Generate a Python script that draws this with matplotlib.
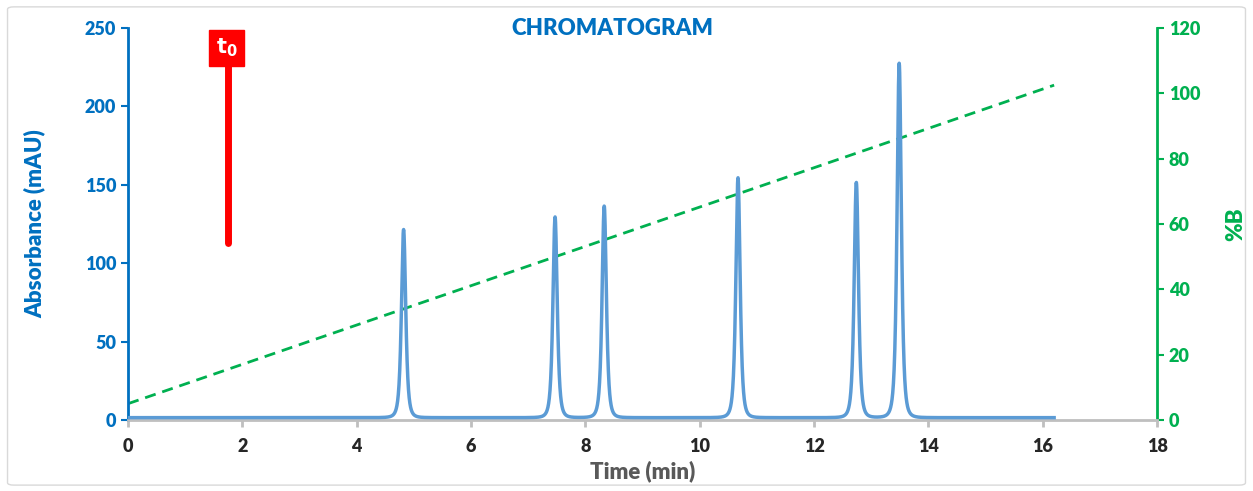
import numpy as np
import matplotlib.pyplot as plt
from matplotlib.patches import FancyBboxPatch

plt.rcParams['font.family'] = ['Lato', 'DejaVu Sans']
plt.rcParams['font.weight'] = 'heavy'

# peaks: retention time (min), height (mAU), width (min)
peak_times = [4.82, 7.47, 8.33, 10.67, 12.74, 13.49]
peak_heights = [120, 128, 135, 153, 150, 226]
peak_widths = [0.068, 0.068, 0.068, 0.068, 0.068, 0.068]
baseline = 1.5
run_end = 16.2

# gradient %B
grad_time = [0, 16.2]
grad_b = [5, 102.5]

# dead time marker
t0_time = 1.75
t0_bottom = 113
t0_top = 228

blue_txt = '#0070C0'
trace_col = '#5B9BD5'
green = '#00B050'
gray = '#BFBFBF'
W = 'heavy'

t = np.linspace(0, run_end, 4000)
signal = np.full_like(t, baseline)
for c, h, w in zip(peak_times, peak_heights, peak_widths):
    signal += h / (1 + ((t - c) / w) ** 2) ** 2

fig = plt.figure(figsize=(12.53, 4.91), dpi=100)
fig.patches.append(FancyBboxPatch((0.006, 0.012), 0.988, 0.974, boxstyle='round,pad=0,rounding_size=0.005',
                                  transform=fig.transFigure, fill=False, edgecolor='#D9D9D9', lw=1))
ax = fig.add_axes([0.1022, 0.1446, 0.8212, 0.7984])
ax2 = ax.twinx()

ax.plot(t, signal, color=trace_col, lw=2.5, zorder=3)
ax2.plot(grad_time, grad_b, color=green, lw=2, ls=(0, (4, 2.5)), zorder=2)
ax.set_zorder(ax2.get_zorder() + 1)
ax.patch.set_visible(False)

ax.plot([t0_time, t0_time], [t0_bottom, t0_top], color='red', lw=5, solid_capstyle='round', zorder=4)
ax.text(t0_time - 0.03, 237.5, '$\\mathbf{t_0}$', color='white', fontsize=15, ha='center', va='center', zorder=5,
        bbox=dict(boxstyle='square,pad=0.32', fc='red', ec='red'))

ax.set_xlim(0, 18)
ax.set_ylim(0, 250)
ax2.set_ylim(0, 120)
ax.set_xticks(range(0, 19, 2))
ax.set_yticks(range(0, 251, 50))
ax2.set_yticks(range(0, 121, 20))

ax.spines['top'].set_visible(False)
ax2.spines['top'].set_visible(False)
ax.spines['right'].set_visible(False)
ax2.spines['left'].set_visible(False)
ax.spines['left'].set_color(blue_txt)
ax.spines['left'].set_linewidth(2)
ax2.spines['right'].set_color(green)
ax2.spines['right'].set_linewidth(2)
ax.spines['bottom'].set_color(gray)
ax.spines['bottom'].set_linewidth(2)
ax2.spines['bottom'].set_visible(False)

ax.tick_params(axis='y', colors=blue_txt, labelsize=13, width=1.5, length=5)
ax2.tick_params(axis='y', colors=green, labelsize=13, width=1.5, length=5)
ax.tick_params(axis='x', colors=gray, labelcolor='#262626', labelsize=13, width=2, length=5, pad=8)
for lab in ax.get_xticklabels() + ax.get_yticklabels() + ax2.get_yticklabels():
    lab.set_fontweight(W)

ax.set_xlabel('Time (min)', fontsize=16, color='#595959', fontweight=W, labelpad=4)
ax.set_ylabel('Absorbance (mAU)', fontsize=16, color=blue_txt, fontweight=W, labelpad=28)
ax2.set_ylabel('%B', fontsize=16, color=green, fontweight=W, labelpad=18)
ax.text(0.471, 1.025, 'CHROMATOGRAM', transform=ax.transAxes, ha='center', va='top',
        fontsize=16, color=blue_txt, fontweight=W)

fig.savefig('out.png', dpi=100)
